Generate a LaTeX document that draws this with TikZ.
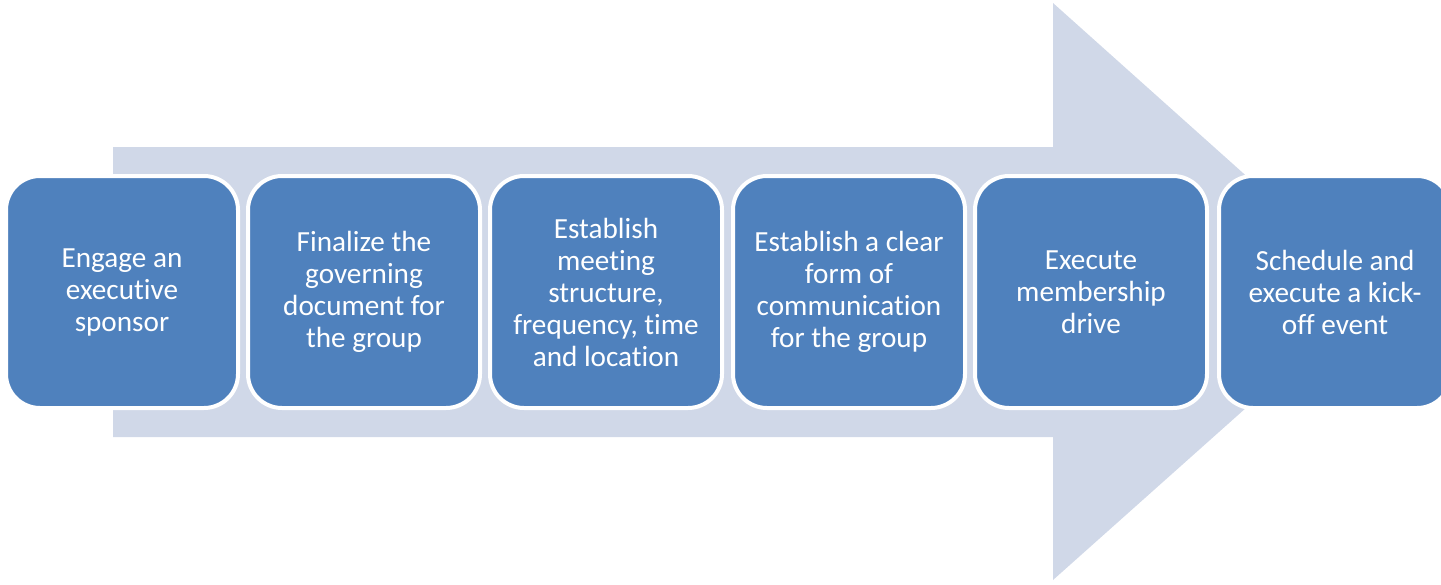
\documentclass[tikz,border=0pt]{standalone}
\usepackage{fontspec}
\setmainfont{Carlito}[Ligatures=NoCommon]
\usepackage{tikz}
\usetikzlibrary{positioning}
\definecolor{stepblue}{RGB}{79,129,189}
\definecolor{arrowgray}{RGB}{208,216,232}
\tikzset{
  stepbox/.style = {rectangle, rounded corners=17pt, fill=stepblue, draw=white,
                    line width=2pt, minimum width=116pt, minimum height=116pt,
                    text=white, align=center, inner sep=0pt,
                    font=\fontsize{14.6pt}{16pt}\selectfont},
}

\begin{document}
\begin{tikzpicture}[x=0.5pt, y=-0.5pt]
    \useasboundingbox (0,0) rectangle (1441,584);
    \fill[arrowgray] (113,147) -- (1053,147) -- (1053,3) -- (1376,292) -- (1053,580) -- (1053,437) -- (113,437) -- cycle;
    \node[stepbox] (s1) at (122,292) {Engage an\\executive\\sponsor};
    \node[stepbox] (s2) at (364,292) {Finalize the\\governing\\document for\\the group};
    \node[stepbox] (s3) at (606,292) {Establish\\meeting\\structure,\\frequency, time\\and location};
    \node[stepbox] (s4) at (849,292) {Establish a clear\\form of\\communication\\for the group};
    \node[stepbox] (s5) at (1091,292) {Execute\\membership\\drive};
    \node[stepbox] (s6) at (1335,292) {Schedule and\\execute a kick-\\off event};
  \end{tikzpicture}
\end{document}
